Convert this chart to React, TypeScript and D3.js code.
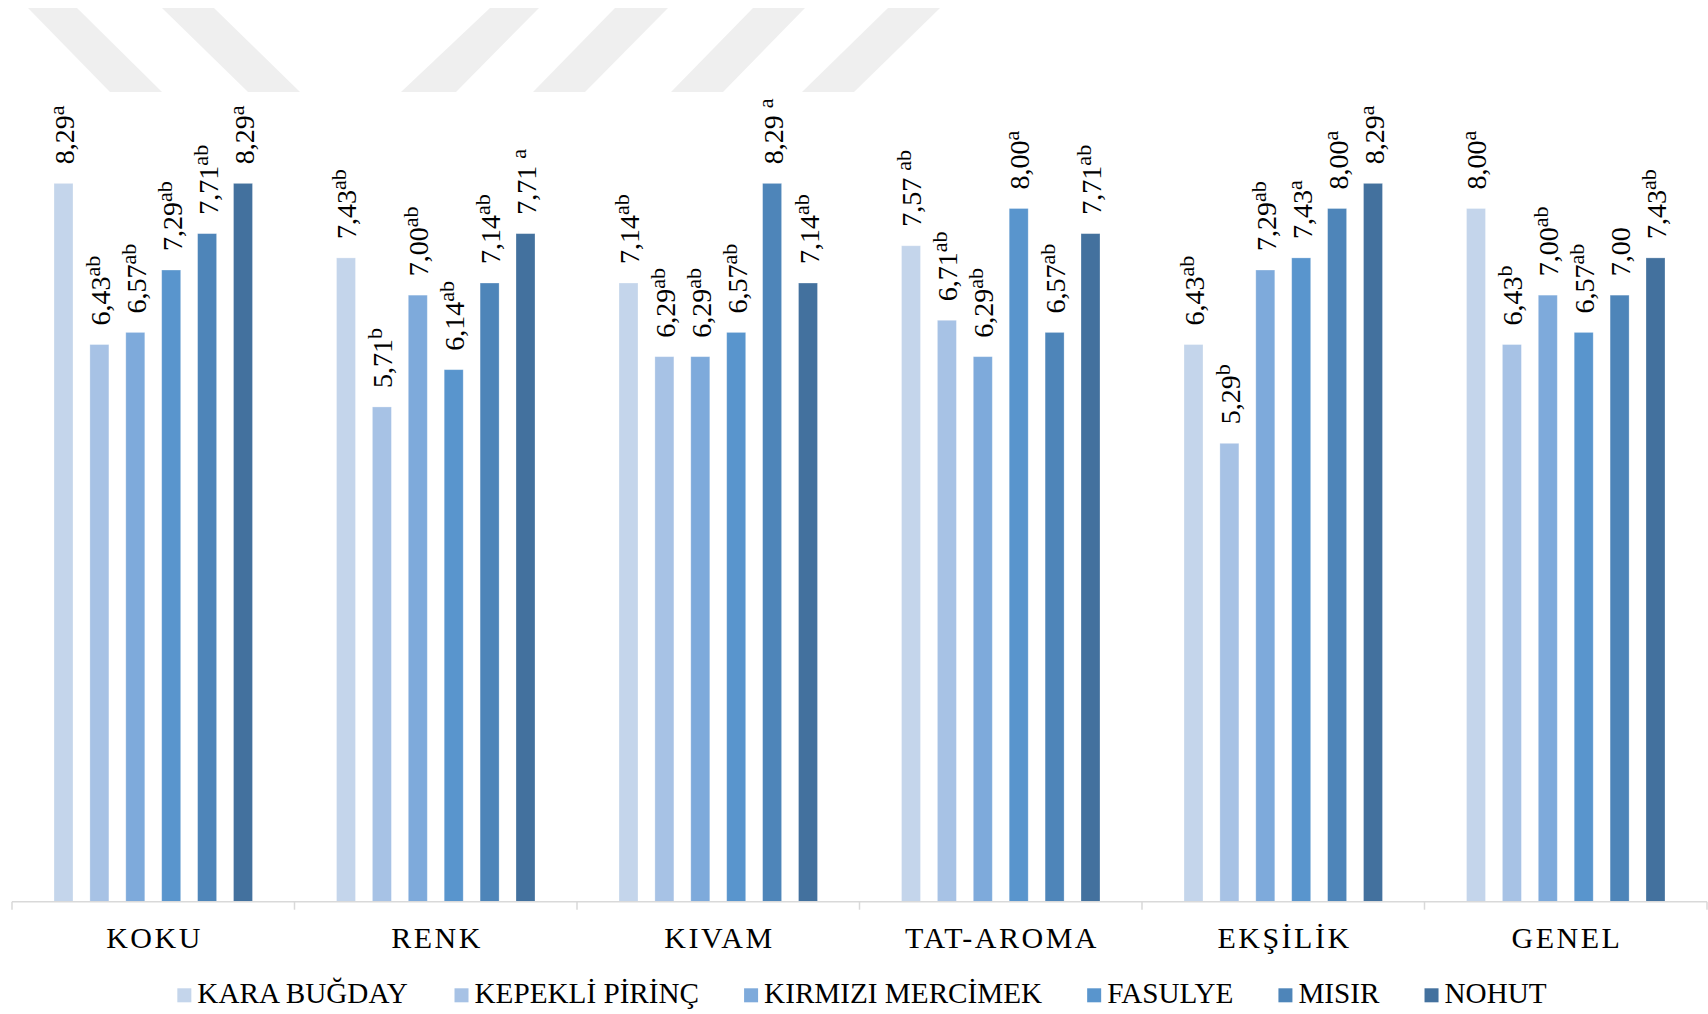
import React from "react";
import * as d3 from "d3";

// Sensory attributes (x-axis groups)
const categories = ["KOKU", "RENK", "KIVAM", "TAT-AROMA", "EKŞİLİK", "GENEL"];

// Flour types (series)
const seriesNames = ["KARA BUĞDAY", "KEPEKLİ PİRİNÇ", "KIRMIZI MERCİMEK", "FASULYE", "MISIR", "NOHUT"];

// Mean scores per attribute, one array per flour type
const karaBugday = [8.29, 7.43, 7.14, 7.57, 6.43, 8.0];
const kepekliPirinc = [6.43, 5.71, 6.29, 6.71, 5.29, 6.43];
const kirmiziMercimek = [6.57, 7.0, 6.29, 6.29, 7.29, 7.0];
const fasulye = [7.29, 6.14, 6.57, 8.0, 7.43, 6.57];
const misir = [7.71, 7.14, 8.29, 6.57, 8.0, 7.0];
const nohut = [8.29, 7.71, 7.14, 7.71, 8.29, 7.43];

// Significance letters shown as superscripts (leading space kept where printed)
const karaBugdaySig = ["a", "ab", "ab", " ab", "ab", "a"];
const kepekliPirincSig = ["ab", "b", "ab", "ab", "b", "b"];
const kirmiziMercimekSig = ["ab", "ab", "ab", "ab", "ab", "ab"];
const fasulyeSig = ["ab", "ab", "ab", "a", "a", "ab"];
const misirSig = ["ab", "ab", " a", "ab", "a", ""];
const nohutSig = ["a", " a", "ab", "ab", "a", "ab"];

const seriesValues = [karaBugday, kepekliPirinc, kirmiziMercimek, fasulye, misir, nohut];
const seriesSig = [karaBugdaySig, kepekliPirincSig, kirmiziMercimekSig, fasulyeSig, misirSig, nohutSig];

const colors = ["#c4d5eb", "#a7c2e5", "#7eaadb", "#5995cd", "#4e85b9", "#43719e"];

// Faint diagonal band decoration across the top
const bands: [number, number][][] = [
  [[28, 8], [77, 8], [162, 92], [110, 92]],
  [[162, 8], [214, 8], [300, 92], [248, 92]],
  [[490, 8], [539, 8], [456, 92], [401, 92]],
  [[615, 8], [668, 8], [585, 92], [533, 92]],
  [[753, 8], [805, 8], [723, 92], [671, 92]],
  [[888, 8], [940, 8], [854, 92], [802, 92]],
];

const W = 1708;
const H = 1014;
const FONT = "Liberation Serif";

const fmt = (v: number) => d3.format(".2f")(v).replace(".", ",");

function measure(text: string, font: string): number {
  const c = document.createElement("canvas").getContext("2d");
  if (!c) return text.length * 16;
  c.font = font;
  return c.measureText(text).width;
}

export default function App() {
  const axisY = 901.7;
  const x0 = d3.scaleBand<string>().domain(categories).range([12, 1707]).paddingInner(0).paddingOuter(0);
  const x1 = d3
    .scaleBand<string>()
    .domain(seriesNames)
    .range([0, x0.bandwidth()])
    .paddingInner(0.471)
    .paddingOuter(1.17);
  const y = d3.scaleLinear().domain([0, 10]).range([axisY, axisY - 866.5]);

  // Legend layout
  const legendFontSize = 29.2;
  const legendFont = `${legendFontSize}px "${FONT}"`;
  const sq = 14;
  const textGap = 20;
  const itemGap = 45;
  const widths = seriesNames.map((s) => measure(s, legendFont));
  const total = widths.reduce((a, w) => a + textGap + w, 0) + itemGap * (seriesNames.length - 1);
  let cursor = 862 - total / 2;
  const legendItems = seriesNames.map((s, i) => {
    const item = { name: s, x: cursor, color: colors[i] };
    cursor += textGap + widths[i] + itemGap;
    return item;
  });

  const ticks = [...categories.map((c) => x0(c) as number), 1707];

  return (
    <svg
      width={W}
      height={H}
      style={{ position: "absolute", left: 0, top: 0, background: "#fff", fontFamily: FONT }}
    >
      <rect x={0} y={0} width={W} height={H} fill="#fff" />
      {bands.map((pts, i) => (
        <polygon key={i} points={pts.map((p) => p.join(",")).join(" ")} fill="#efefef" />
      ))}

      {/* bars */}
      {categories.map((cat, ci) => (
        <g key={cat} transform={`translate(${x0(cat)},0)`}>
          {seriesNames.map((s, si) => {
            const v = seriesValues[si][ci];
            return (
              <rect
                key={s}
                x={x1(s) as number}
                y={y(v)}
                width={x1.bandwidth()}
                height={axisY - y(v)}
                fill={colors[si]}
                stroke="#ffffff"
                strokeOpacity={0.35}
                strokeWidth={0.8}
              />
            );
          })}
        </g>
      ))}

      {/* axis */}
      <line x1={12} x2={1707} y1={axisY} y2={axisY} stroke="#d9d9d9" strokeWidth={1.5} />
      {ticks.map((t, i) => (
        <line key={i} x1={t} x2={t} y1={axisY} y2={axisY + 8} stroke="#d9d9d9" strokeWidth={1.5} />
      ))}
      {categories.map((cat) => (
        <text
          key={cat}
          x={(x0(cat) as number) + x0.bandwidth() / 2 + 1.25}
          y={947.7}
          textAnchor="middle"
          fontFamily={FONT}
          fontSize={30}
          letterSpacing={2.5}
          fill="#000"
        >
          {cat}
        </text>
      ))}

      {/* data labels */}
      {categories.map((cat, ci) =>
        seriesNames.map((s, si) => {
          const v = seriesValues[si][ci];
          const sig = seriesSig[si][ci];
          const cx = (x0(cat) as number) + (x1(s) as number) + x1.bandwidth() / 2;
          const lead = sig.startsWith(" ");
          const letters = sig.trim();
          return (
            <text
              key={`${cat}-${s}`}
              transform={`translate(${cx + 10.5},${y(v) - 19}) rotate(-90)`}
              fontFamily={FONT}
              fontSize={28}
              fill="#000"
              style={{ whiteSpace: "pre" }}
            >
              <tspan>{fmt(v) + (lead ? " " : "")}</tspan>
              {letters && (
                <tspan fontSize={22} dy={-10}>
                  {letters}
                </tspan>
              )}
            </text>
          );
        })
      )}

      {/* legend */}
      {legendItems.map((it) => (
        <g key={it.name}>
          <rect x={it.x} y={988.3} width={sq} height={sq} fill={it.color} />
          <text x={it.x + textGap} y={1002.7} fontFamily={FONT} fontSize={legendFontSize} fill="#000">
            {it.name}
          </text>
        </g>
      ))}
    </svg>
  );
}
